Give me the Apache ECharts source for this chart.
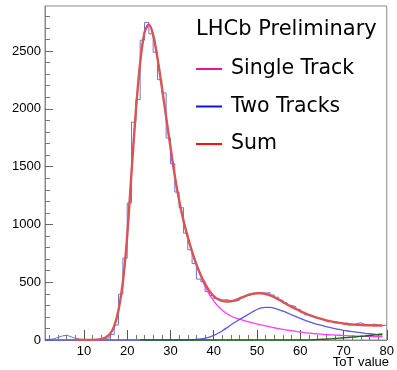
<!DOCTYPE html>
<html>
<head>
<meta charset="utf-8">
<script src="https://cdn.jsdelivr.net/npm/echarts@6.0.0/dist/echarts.min.js"></script>
<style>
  body { margin: 0; background: #fff; }
  #main { width: 397px; height: 370px; }
</style>
</head>
<body>
<div id="main"></div>
<script>
// histogram: bins of width 1 starting at x = 1
const binStart = 1;
const counts = [5, 10, 22, 35, 42, 28, 15, 8, 5, 4,
  3, 5, 8, 12, 20, 47, 130, 396, 708, 1185,
  1885, 2080, 2594, 2748, 2649, 2490, 2253, 2138, 1748, 1525,
  1280, 1145, 925, 780, 662, 527, 505, 419, 385, 360,
  345, 350, 340, 335, 345, 370, 385, 395, 410, 405,
  405, 412, 390, 370, 345, 320, 300, 288, 265, 240,
  218, 205, 195, 180, 165, 160, 155, 150, 142, 130,
  128, 140, 150, 135, 128, 138, 130, 124, 130];

// fit curves sampled at x = 1 .. 79
const fitX = [1, 2, 3, 4, 5, 6, 7, 8, 9, 10,
  11, 12, 13, 14, 15, 16, 17, 18, 19, 20,
  21, 22, 23, 24, 25, 26, 27, 28, 29, 30,
  31, 32, 33, 34, 35, 36, 37, 38, 39, 40,
  41, 42, 43, 44, 45, 46, 47, 48, 49, 50,
  51, 52, 53, 54, 55, 56, 57, 58, 59, 60,
  61, 62, 63, 64, 65, 66, 67, 68, 69, 70,
  71, 72, 73, 74, 75, 76, 77, 78, 79];
const sumY = [null, null, null, null, null, null, null, 0, 0, 0,
  0, 1, 3, 8, 22, 52, 120, 260, 500, 900,
  1450, 1980, 2400, 2660, 2730, 2640, 2440, 2190, 1930, 1670,
  1420, 1210, 1035, 890, 765, 655, 562, 485, 425, 380,
  352, 338, 333, 335, 345, 360, 376, 390, 400, 405,
  404, 398, 386, 370, 350, 329, 307, 287, 268, 250,
  233, 218, 204, 191, 180, 170, 161, 154, 148, 143,
  139, 135, 132, 130, 128, 127, 126, 125, 125];
const singleY = [null, null, null, null, null, null, null, 0, 0, 0,
  0, 1, 3, 8, 22, 52, 120, 260, 500, 900,
  1450, 1980, 2400, 2660, 2730, 2640, 2440, 2190, 1930, 1670,
  1420, 1210, 1035, 889, 762, 650, 550, 465, 395, 338,
  292, 258, 230, 208, 192, 180, 168, 158, 148, 139,
  130, 122, 114, 106, 99, 92, 86, 80, 74, 69,
  64, 60, 56, 53, 50, 47, 45, 43, 41, 39,
  37, 36, 34, 33, 32, 31, 30, 29, 28];
const twoY = [0, 0, 0, 0, 0, 0, 0, 0, 0, 0,
  0, 0, 0, 0, 0, 0, 0, 0, 0, 0,
  0, 0, 0, 0, 0, 0, 0, 0, 0, 0,
  0, 0, 0, 1, 3, 5, 9, 15, 25, 40,
  58, 80, 105, 132, 156, 178, 200, 222, 244, 264,
  277, 283, 282, 275, 263, 249, 234, 218, 202, 187,
  172, 159, 147, 136, 126, 116, 107, 99, 91, 84,
  78, 73, 68, 63, 58, 54, 50, 46, 43];
const thirdY = [null, null, null, null, null, null, null, null, null, null,
  null, null, null, null, null, null, null, null, null, null,
  null, null, 0, 0, 0, 0, 0, 0, 0, 0,
  0, 0, 0, 0, 0, 0, 0, 0, 0, 0,
  0, 0, 0, 0, 0, 0, 0, 0, 0, 0,
  0, 0, 0, 0, 0, 0, 0, 0, 0, 0,
  0, 1, 2, 4, 6, 8, 10, 13, 16, 19,
  22, 25, 28, 31, 35, 39, 43, 47, 52];

const xMajor = [10, 20, 30, 40, 50, 60, 70, 80];
const xMinor = [2, 4, 6, 8, 12, 14, 16, 18, 22, 24, 26, 28, 32, 34, 36, 38,
  42, 44, 46, 48, 52, 54, 56, 58, 62, 64, 66, 68, 72, 74, 76, 78];
const yMajor = [0, 500, 1000, 1500, 2000, 2500];
const yMinor = [100, 200, 300, 400, 600, 700, 800, 900, 1100, 1200, 1300, 1400,
  1600, 1700, 1800, 1900, 2100, 2200, 2300, 2400, 2600, 2700, 2800];

const histData = counts.map((c, i) => [binStart + i, c]);
histData.push([binStart + counts.length, counts[counts.length - 1]]);
const pairs = (ys) => fitX.map((x, i) => [x, ys[i]]);

const labelFont = { fontFamily: "Liberation Sans", fontSize: 13, color: "#000", formatter: (v) => String(v) };

var myChart = echarts.init(document.getElementById("main"));
var option = {
  animation: false,
  title: {
    text: "LHCb Preliminary",
    left: 196,
    top: 19,
    padding: 0,
    textStyle: { fontFamily: "DejaVu Sans", fontSize: 21, fontWeight: "normal", color: "#000" },
  },
  legend: {
    orient: "vertical",
    left: 196,
    top: 57,
    padding: 0,
    icon: "rect",
    itemWidth: 26,
    itemHeight: 2,
    itemGap: 13.5,
    selectedMode: false,
    textStyle: { fontFamily: "DejaVu Sans", fontSize: 20.5, color: "#000", lineHeight: 24, padding: [0, 0, 0, 4] },
    data: [
      { name: "Single Track", itemStyle: { color: "#ee1199" } },
      { name: "Two Tracks", itemStyle: { color: "#1010ff" } },
      { name: "Sum", itemStyle: { color: "#ff1010" } },
    ],
  },
  graphic: [
    {
      type: "text",
      right: 8,
      bottom: 1,
      style: { text: "ToT value", font: "13px 'Liberation Sans'", fill: "#000" },
    },
  ],
  grid: {
    left: 45,
    right: 8,
    top: 6,
    bottom: 30,
    show: true,
    borderColor: "#888",
    borderWidth: 1,
  },
  xAxis: [
    {
      type: "value",
      min: 1,
      max: 80,
      position: "bottom",
      axisLine: { lineStyle: { color: "#888" } },
      axisTick: { inside: true, length: 10, customValues: xMajor, lineStyle: { color: "#555" } },
      axisLabel: Object.assign({ customValues: xMajor, margin: 5 }, labelFont),
      splitLine: { show: false },
    },
    {
      type: "value",
      min: 1,
      max: 80,
      position: "bottom",
      axisLine: { show: false },
      axisTick: { inside: true, length: 5, customValues: xMinor, lineStyle: { color: "#777" } },
      axisLabel: { show: false },
      splitLine: { show: false },
    },
  ],
  yAxis: [
    {
      type: "value",
      min: 0,
      max: 2890,
      position: "left",
      axisLine: { show: true, lineStyle: { color: "#888" } },
      axisTick: { show: true, inside: true, length: 8, customValues: yMajor, lineStyle: { color: "#666" } },
      axisLabel: Object.assign({ customValues: yMajor, margin: 4 }, labelFont),
      splitLine: { show: false },
    },
    {
      type: "value",
      min: 0,
      max: 2890,
      position: "left",
      axisLine: { show: false },
      axisTick: { show: true, inside: true, length: 5, customValues: yMinor, lineStyle: { color: "#777" } },
      axisLabel: { show: false },
      splitLine: { show: false },
    },
  ],
  series: [
    {
      name: "data",
      type: "line",
      step: "end",
      data: histData,
      symbol: "none",
      lineStyle: { color: "#7272d4", width: 1 },
    },
    {
      name: "Single Track",
      type: "line",
      data: pairs(singleY),
      smooth: 0.3,
      symbol: "none",
      color: "#ff3dff",
      lineStyle: { color: "#ff3dff", width: 1.3 },
    },
    {
      name: "Two Tracks",
      type: "line",
      data: pairs(twoY),
      smooth: 0.3,
      symbol: "none",
      color: "#5a5ae2",
      lineStyle: { color: "#5a5ae2", width: 1.3 },
    },
    {
      name: "third",
      type: "line",
      data: pairs(thirdY),
      smooth: 0.3,
      symbol: "none",
      lineStyle: { color: "#116611", width: 1.4 },
    },
    {
      name: "Sum",
      type: "line",
      data: pairs(sumY),
      smooth: 0.3,
      symbol: "none",
      color: "#d65656",
      lineStyle: { color: "#d65656", width: 2.4 },
    },
  ],
};
myChart.setOption(option);
</script>
</body>
</html>
